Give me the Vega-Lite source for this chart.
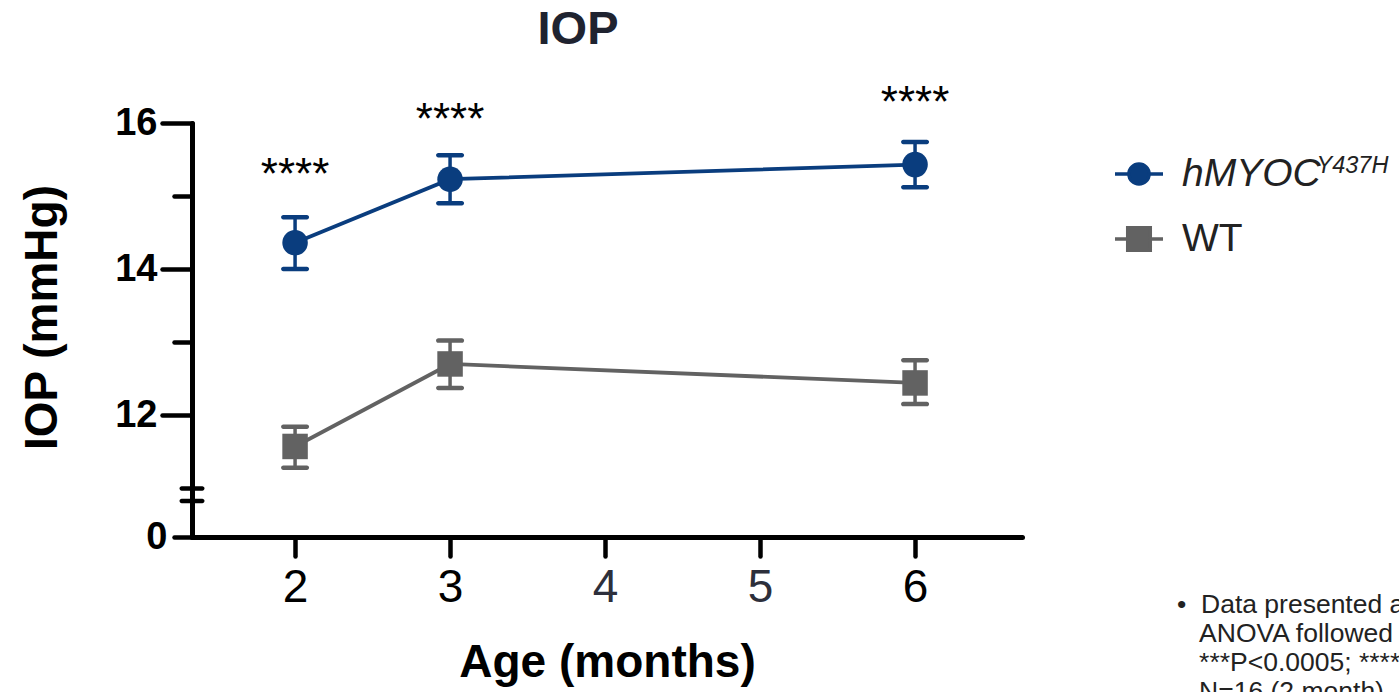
{
  "$schema": "https://vega.github.io/schema/vega-lite/v6.json",
  "width": 830,
  "height": 414,
  "autosize": {"type": "none"},
  "padding": {"left": 192, "top": 123, "right": 377, "bottom": 155},
  "background": "white",
  "config": {
    "view": {"stroke": null},
    "font": "Liberation Sans",
    "axis": {"labelFont": "Liberation Sans", "titleFont": "Liberation Sans", "grid": false},
    "legend": {"labelFont": "Liberation Sans", "titleFont": "Liberation Sans"}
  },
  "title": {
    "text": "IOP",
    "fontSize": 47,
    "fontWeight": "bold",
    "color": "#1f2330",
    "anchor": "middle",
    "dx": -29,
    "offset": 28,
    "font": "Liberation Sans"
  },
  "datasets": {
    "iop": [
      {"month": 2, "group": "hMYOC", "mean": 14.36, "lo": 14.0, "hi": 14.71},
      {"month": 3, "group": "hMYOC", "mean": 15.23, "lo": 14.9, "hi": 15.56},
      {"month": 6, "group": "hMYOC", "mean": 15.43, "lo": 15.12, "hi": 15.74},
      {"month": 2, "group": "WT", "mean": 11.57, "lo": 11.28, "hi": 11.84},
      {"month": 3, "group": "WT", "mean": 12.7, "lo": 12.37, "hi": 13.02},
      {"month": 6, "group": "WT", "mean": 12.44, "lo": 12.15, "hi": 12.75}
    ],
    "sig": [
      {"month": 2, "y": 15.1, "sig": "****"},
      {"month": 3, "y": 15.85, "sig": "****"},
      {"month": 6, "y": 16.08, "sig": "****"}
    ],
    "brk": [{"b": 10.995}, {"b": 10.824}],
    "sup": [{"sup": "Y437H"}],
    "note": [{"note": "n"}]
  },
  "layer": [
    {
      "data": {"name": "iop"},
      "mark": {"type": "rule", "strokeWidth": 3.5, "opacity": 1},
      "encoding": {
        "x": {
          "field": "month", "type": "quantitative",
          "scale": {"domain": [1.335, 6.69], "nice": false, "zero": false},
          "axis": {
            "values": [2, 3, 4, 5, 6],
            "format": "d",
            "title": "Age (months)",
            "titleFontSize": 46,
            "titleFontWeight": "bold",
            "titleColor": "#000000",
            "titlePadding": 30,
            "labelFontSize": 46,
            "labelFontWeight": "normal",
            "labelColor": {"condition": {"test": "datum.value == 4 || datum.value == 5", "value": "#2d2f3b"}, "value": "#000000"},
            "labelPadding": 9,
            "domainWidth": 5,
            "domainColor": "#000000",
            "domainCap": "round",
            "tickSize": 19,
            "tickWidth": 4.5,
            "tickColor": "#000000",
            "tickCap": "round"
          }
        },
        "y": {
          "field": "lo", "type": "quantitative",
          "scale": {"domain": [10.33, 16], "nice": false, "zero": false},
          "axis": {
            "values": [10.33, 12, 13, 14, 15, 16],
            "format": "d",
            "labelExpr": "datum.value < 11 ? '0' : ((datum.value == 13 || datum.value == 15) ? '' : datum.label)",
            "title": "IOP (mmHg)",
            "titleFontSize": 46,
            "titleFontWeight": "bold",
            "titleColor": "#000000",
            "titlePadding": 48,
            "titleY": 194,
            "labelFontSize": 38,
            "labelFontWeight": "bold",
            "labelColor": "#000000",
            "labelPadding": {"condition": {"test": "datum.value < 11", "value": 7}, "value": 5},
            "domainWidth": 5,
            "domainColor": "#000000",
            "domainCap": "round",
            "tickSize": {"condition": {"test": "datum.value == 12 || datum.value == 14 || datum.value == 16", "value": 30}, "value": 18},
            "tickWidth": 4.5,
            "tickColor": "#000000",
            "tickCap": "round"
          }
        },
        "y2": {"field": "hi"},
        "color": {
          "field": "group", "type": "nominal",
          "scale": {"domain": ["hMYOC", "WT"], "range": ["#0a3d7e", "#626262"]}
        }
      }
    },
    {
      "data": {"name": "iop"},
      "mark": {"type": "tick", "orient": "horizontal", "size": 28, "thickness": 4.5, "cornerRadius": 2.2, "opacity": 1},
      "encoding": {
        "x": {"field": "month", "type": "quantitative"},
        "y": {"field": "lo", "type": "quantitative"},
        "color": {"field": "group", "type": "nominal"}
      }
    },
    {
      "data": {"name": "iop"},
      "mark": {"type": "tick", "orient": "horizontal", "size": 28, "thickness": 4.5, "cornerRadius": 2.2, "opacity": 1},
      "encoding": {
        "x": {"field": "month", "type": "quantitative"},
        "y": {"field": "hi", "type": "quantitative"},
        "color": {"field": "group", "type": "nominal"}
      }
    },
    {
      "data": {"name": "iop"},
      "mark": {"type": "line", "strokeWidth": 3.8},
      "encoding": {
        "x": {"field": "month", "type": "quantitative"},
        "y": {"field": "mean", "type": "quantitative"},
        "color": {"field": "group", "type": "nominal"}
      }
    },
    {
      "data": {"name": "iop"},
      "mark": {"type": "point", "filled": true, "size": 650, "opacity": 1},
      "encoding": {
        "x": {"field": "month", "type": "quantitative"},
        "y": {"field": "mean", "type": "quantitative"},
        "color": {
          "field": "group", "type": "nominal",
          "legend": {
            "orient": "none", "legendX": 921, "legendY": 25, "title": null, "padding": 0,
            "symbolSize": 2304, "symbolStrokeWidth": 3.5, "labelFontSize": 39, "labelColor": "#222222",
            "labelOffset": 17, "rowPadding": 19,
            "symbolType": {"expr": "datum.value === 'hMYOC' ? 'M-1,0H-0.42M0.42,0H1M0.42,0A0.42,0.42,0,1,1,-0.42,0A0.42,0.42,0,1,1,0.42,0Z' : 'M-1,0H-0.47M0.47,0H1M-0.47,-0.47H0.47V0.47H-0.47Z'"},
            "symbolStrokeColor": {"expr": "datum.value === 'hMYOC' ? '#0a3d7e' : '#626262'"},
            "labelFontStyle": {"expr": "datum.value === 'hMYOC' ? 'italic' : 'normal'"}
          }
        },
        "shape": {
          "field": "group", "type": "nominal",
          "scale": {"domain": ["WT", "hMYOC"], "range": ["square", "circle"]},
          "legend": null
        }
      }
    },
    {
      "data": {"name": "sig"},
      "mark": {"type": "text", "fontSize": 44, "baseline": "alphabetic", "align": "center", "color": "#000000", "font": "Liberation Sans"},
      "encoding": {
        "x": {"field": "month", "type": "quantitative"},
        "y": {"field": "y", "type": "quantitative"},
        "text": {"field": "sig"}
      }
    },
    {
      "data": {"name": "brk"},
      "mark": {"type": "tick", "orient": "horizontal", "size": 25, "thickness": 4.5, "cornerRadius": 2.2, "color": "#000000", "opacity": 1},
      "encoding": {
        "x": {"datum": 1.335, "type": "quantitative"},
        "y": {"field": "b", "type": "quantitative"}
      }
    },
    {
      "data": {"name": "sup"},
      "mark": {"type": "point", "size": 0, "opacity": 0, "filled": true},
      "encoding": {
        "strokeDash": {
          "field": "sup", "type": "nominal",
          "legend": {
            "orient": "none", "legendX": 1101, "legendY": 31, "title": null, "padding": 0,
            "symbolSize": 0, "symbolOpacity": 0, "symbolStrokeWidth": 0, "symbolOffset": 0,
            "labelOffset": 0, "labelFontSize": 23.5, "labelFontStyle": "italic", "labelColor": "#222222"
          }
        }
      }
    },
    {
      "data": {"name": "note"},
      "mark": {"type": "point", "size": 0, "filled": true},
      "encoding": {
        "opacity": {
          "field": "note", "type": "ordinal",
          "legend": {
            "orient": "none", "legendX": 985, "legendY": 469, "padding": 0,
            "title": ["•\u00a0\u00a0Data presented as mean ± SEM; two-way", "\u200b\u00a0\u00a0\u00a0ANOVA followed by Sidak's test", "\u200b\u00a0\u00a0\u00a0***P<0.0005; ****P<0.0001", "\u200b\u00a0\u00a0\u00a0N=16 (2 month), N=12 (3 month)"],
            "titleFontSize": 26.5, "titleFontWeight": "normal", "titleColor": "#222222", "titleLineHeight": 29,
            "titleLimit": 1000,
            "symbolOpacity": 0, "labelOpacity": 0, "labelExpr": "''"
          }
        }
      }
    }
  ]
}
